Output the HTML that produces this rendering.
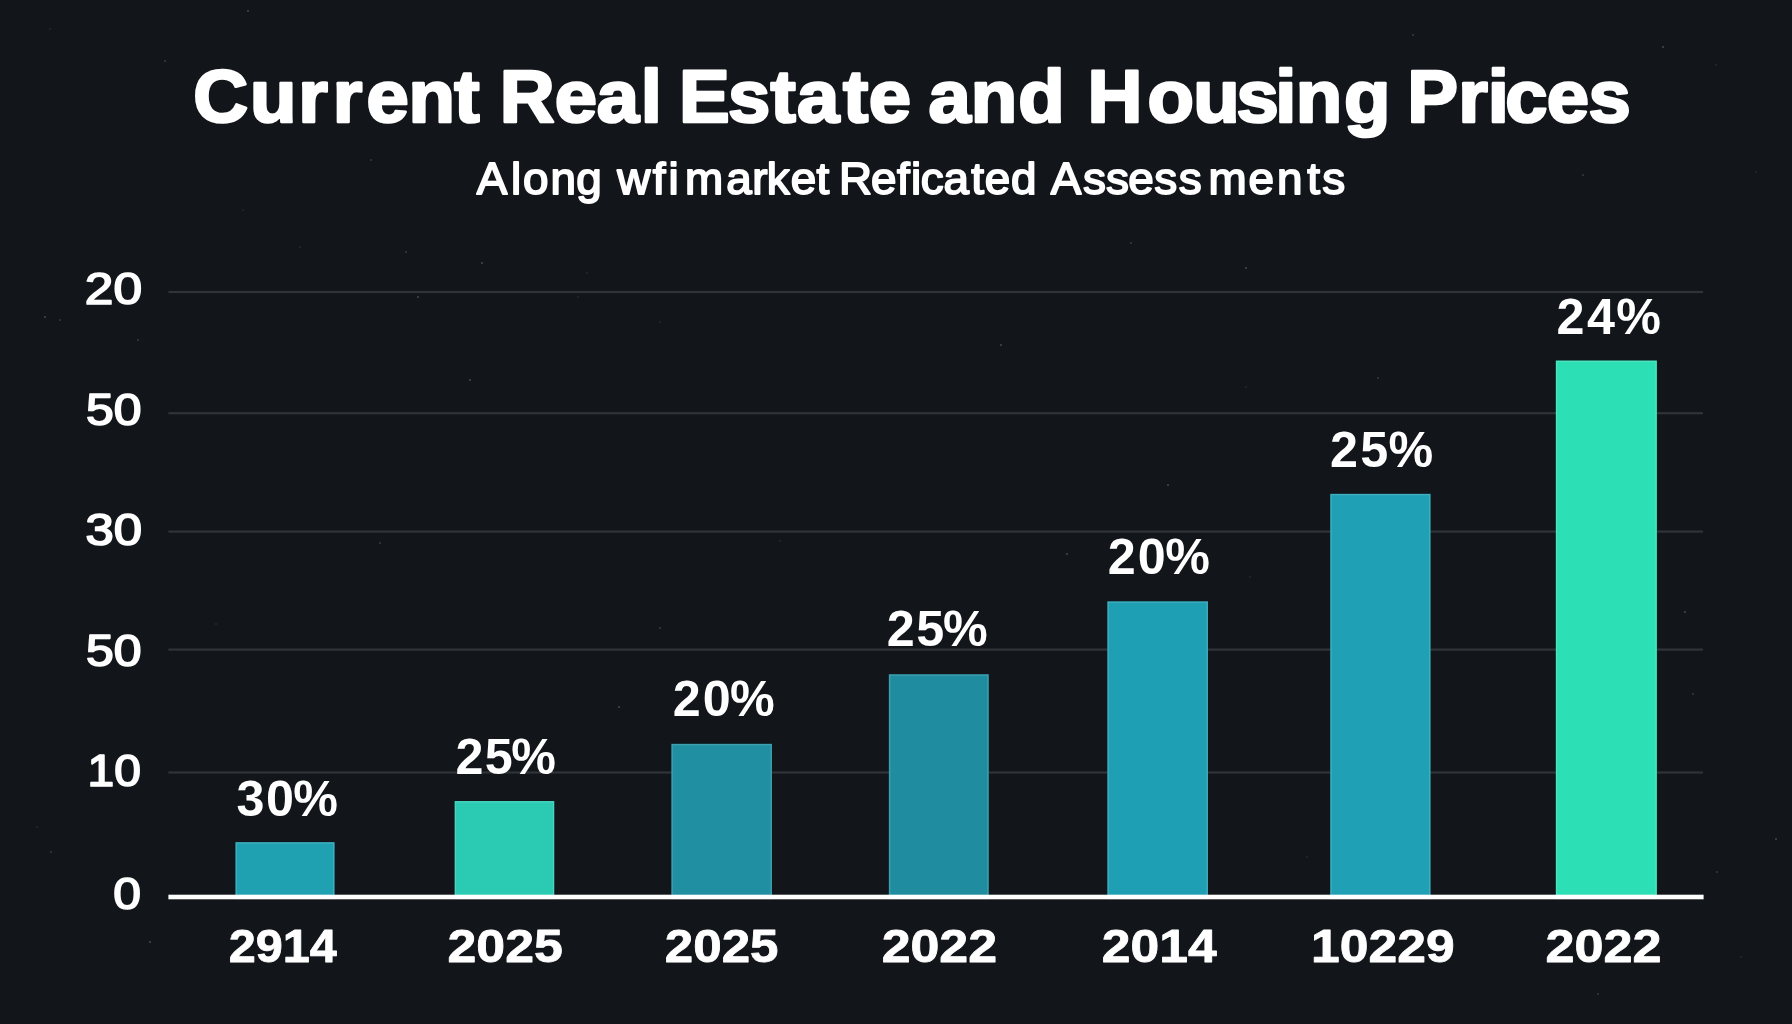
<!DOCTYPE html>
<html lang="en"><head><meta charset="utf-8"><title>Current Real Estate and Housing Prices</title>
<style>
html,body{margin:0;padding:0;background:#12161b;}
body{width:1792px;height:1024px;overflow:hidden;}
svg{display:block;will-change:transform;font-family:"Liberation Sans",sans-serif;font-kerning:none;font-variant-ligatures:none;}
svg text{white-space:pre;}
</style></head><body>
<svg role="img" aria-label="Bar chart: Current Real Estate and Housing Prices" width="1792" height="1024" viewBox="0 0 1792 1024">
<circle cx="50" cy="29" r="0.80" fill="#4b5057" opacity="0.55"/>
<circle cx="165" cy="61" r="0.95" fill="#4b5057" opacity="0.70"/>
<circle cx="248" cy="11" r="1.10" fill="#4b5057" opacity="0.85"/>
<circle cx="243" cy="210" r="0.80" fill="#4b5057" opacity="0.55"/>
<circle cx="371" cy="160" r="0.95" fill="#4b5057" opacity="0.70"/>
<circle cx="418" cy="297" r="1.10" fill="#4b5057" opacity="0.85"/>
<circle cx="578" cy="297" r="0.80" fill="#4b5057" opacity="0.55"/>
<circle cx="60" cy="320" r="0.95" fill="#4b5057" opacity="0.70"/>
<circle cx="45" cy="317" r="1.10" fill="#4b5057" opacity="0.85"/>
<circle cx="300" cy="247" r="0.80" fill="#4b5057" opacity="0.55"/>
<circle cx="406" cy="252" r="0.95" fill="#4b5057" opacity="0.70"/>
<circle cx="482" cy="263" r="1.10" fill="#4b5057" opacity="0.85"/>
<circle cx="587" cy="273" r="0.80" fill="#4b5057" opacity="0.55"/>
<circle cx="138" cy="340" r="0.95" fill="#4b5057" opacity="0.70"/>
<circle cx="470" cy="380" r="1.10" fill="#4b5057" opacity="0.85"/>
<circle cx="660" cy="322" r="0.80" fill="#4b5057" opacity="0.55"/>
<circle cx="1413" cy="35" r="0.95" fill="#4b5057" opacity="0.70"/>
<circle cx="1663" cy="47" r="1.10" fill="#4b5057" opacity="0.85"/>
<circle cx="1716" cy="65" r="0.80" fill="#4b5057" opacity="0.55"/>
<circle cx="1131" cy="243" r="0.95" fill="#4b5057" opacity="0.70"/>
<circle cx="1246" cy="268" r="1.10" fill="#4b5057" opacity="0.85"/>
<circle cx="1756" cy="172" r="0.80" fill="#4b5057" opacity="0.55"/>
<circle cx="1583" cy="175" r="0.95" fill="#4b5057" opacity="0.70"/>
<circle cx="1001" cy="345" r="1.10" fill="#4b5057" opacity="0.85"/>
<circle cx="1246" cy="387" r="0.80" fill="#4b5057" opacity="0.55"/>
<circle cx="1378" cy="378" r="0.95" fill="#4b5057" opacity="0.70"/>
<circle cx="1168" cy="485" r="1.10" fill="#4b5057" opacity="0.85"/>
<circle cx="216" cy="624" r="0.80" fill="#4b5057" opacity="0.55"/>
<circle cx="660" cy="628" r="0.95" fill="#4b5057" opacity="0.70"/>
<circle cx="619" cy="707" r="1.10" fill="#4b5057" opacity="0.85"/>
<circle cx="37" cy="827" r="0.80" fill="#4b5057" opacity="0.55"/>
<circle cx="51" cy="852" r="0.95" fill="#4b5057" opacity="0.70"/>
<circle cx="150" cy="942" r="1.10" fill="#4b5057" opacity="0.85"/>
<circle cx="780" cy="541" r="0.80" fill="#4b5057" opacity="0.55"/>
<circle cx="380" cy="543" r="0.95" fill="#4b5057" opacity="0.70"/>
<circle cx="1067" cy="554" r="1.10" fill="#4b5057" opacity="0.85"/>
<circle cx="1250" cy="577" r="0.80" fill="#4b5057" opacity="0.55"/>
<circle cx="1693" cy="694" r="0.95" fill="#4b5057" opacity="0.70"/>
<circle cx="1685" cy="612" r="1.10" fill="#4b5057" opacity="0.85"/>
<circle cx="1307" cy="857" r="0.80" fill="#4b5057" opacity="0.55"/>
<circle cx="1717" cy="872" r="0.95" fill="#4b5057" opacity="0.70"/>
<circle cx="1776" cy="839" r="1.10" fill="#4b5057" opacity="0.85"/>
<circle cx="1741" cy="957" r="0.80" fill="#4b5057" opacity="0.55"/>
<circle cx="1598" cy="994" r="0.95" fill="#4b5057" opacity="0.70"/>
<rect x="168.4" y="290.90" width="1534.6" height="2.2" fill="#2f3439"/>
<rect x="168.4" y="412.10" width="1534.6" height="2.2" fill="#2f3439"/>
<rect x="168.4" y="530.50" width="1534.6" height="2.2" fill="#2f3439"/>
<rect x="168.4" y="648.50" width="1534.6" height="2.2" fill="#2f3439"/>
<rect x="168.4" y="771.40" width="1534.6" height="2.2" fill="#2f3439"/>
<rect x="235.4" y="842.1" width="99.2" height="53.6" fill="#20a1b1"/>
<rect x="236.3" y="843.0" width="97.4" height="55.6" fill="none" stroke="#ffffff" stroke-opacity="0.16" stroke-width="1.2"/>
<rect x="454.6" y="801.0" width="99.7" height="94.7" fill="#2bcab2"/>
<rect x="455.5" y="801.9" width="97.9" height="96.7" fill="none" stroke="#ffffff" stroke-opacity="0.16" stroke-width="1.2"/>
<rect x="671.3" y="743.8" width="100.7" height="151.9" fill="#1f8fa1"/>
<rect x="672.2" y="744.7" width="98.9" height="153.9" fill="none" stroke="#ffffff" stroke-opacity="0.16" stroke-width="1.2"/>
<rect x="888.8" y="674.2" width="100.0" height="221.5" fill="#1f8d9f"/>
<rect x="889.7" y="675.1" width="98.2" height="223.5" fill="none" stroke="#ffffff" stroke-opacity="0.16" stroke-width="1.2"/>
<rect x="1107.3" y="601.3" width="100.7" height="294.4" fill="#1f9fb3"/>
<rect x="1108.2" y="602.2" width="98.9" height="296.4" fill="none" stroke="#ffffff" stroke-opacity="0.16" stroke-width="1.2"/>
<rect x="1330.2" y="493.8" width="100.4" height="401.9" fill="#1fa0b4"/>
<rect x="1331.1" y="494.7" width="98.6" height="403.9" fill="none" stroke="#ffffff" stroke-opacity="0.16" stroke-width="1.2"/>
<rect x="1555.8" y="360.5" width="101.1" height="535.2" fill="#2ddfb4"/>
<rect x="1556.7" y="361.4" width="99.3" height="537.2" fill="none" stroke="#ffffff" stroke-opacity="0.16" stroke-width="1.2"/>
<rect x="168.4" y="894.7" width="1535.2" height="4.6" fill="#ffffff"/>
<text transform="translate(0 122.40) scale(1.0300 1)" x="187.6 242.6 289.6 323.1 355.9 396.6 441.1 466.8 485.2 538.5 579.4 622.0 640.5 659.2 706.8 748.1 773.7 818.5 843.4 882.2 901.4 942.6 988.7 1032.2 1055.8 1114.0 1158.5 1200.6 1238.0 1257.9 1304.8 1347.1 1366.2 1415.7 1444.5 1461.4 1501.8 1542.3" y="0" font-size="73.84" font-weight="bold" fill="#ffffff" stroke="#ffffff" stroke-width="2.6" stroke-linejoin="round">Current Real Estate and Housing Prices</text>
<text transform="translate(0 194.40) scale(1.0300 1)" x="462.8 496.1 507.7 534.5 559.4 582.2 599.3 633.8 649.0 665.0 705.1 730.3 744.4 767.7 792.7 805.6 814.6 845.7 870.8 884.5 893.9 916.0 942.9 956.0 981.6 1005.1 1020.2 1051.5 1073.8 1095.4 1120.6 1144.4 1173.2 1212.1 1239.8 1269.3 1283.7" y="0" font-size="44.48" font-weight="normal" fill="#ffffff" stroke="#ffffff" stroke-width="1.8" stroke-linejoin="round">Along wfimarket Reficated Assessments</text>
<text transform="translate(84.80 304.42) scale(1.1565 1)" font-size="44.49" font-weight="normal" fill="#ffffff" stroke="#ffffff" stroke-width="1.7" stroke-linejoin="round">20</text>
<text transform="translate(85.95 424.52) scale(1.1223 1)" font-size="44.49" font-weight="normal" fill="#ffffff" stroke="#ffffff" stroke-width="1.7" stroke-linejoin="round">50</text>
<text transform="translate(85.43 544.72) scale(1.1433 1)" font-size="44.49" font-weight="normal" fill="#ffffff" stroke="#ffffff" stroke-width="1.7" stroke-linejoin="round">30</text>
<text transform="translate(85.97 666.22) scale(1.1363 1)" font-size="43.93" font-weight="normal" fill="#ffffff" stroke="#ffffff" stroke-width="1.7" stroke-linejoin="round">50</text>
<text transform="translate(87.58 786.12) scale(1.0992 1)" font-size="43.64" font-weight="normal" fill="#ffffff" stroke="#ffffff" stroke-width="1.7" stroke-linejoin="round">10</text>
<text transform="translate(113.31 909.12) scale(1.1190 1)" font-size="44.49" font-weight="normal" fill="#ffffff" stroke="#ffffff" stroke-width="1.7" stroke-linejoin="round">0</text>
<text transform="translate(0 815.61) scale(1.0000 1)" x="236.4 266.0 293.3" y="0" font-size="50.28" font-weight="bold" fill="#ffffff">30%</text>
<text transform="translate(0 773.71) scale(1.0000 1)" x="455.4 484.7 511.3" y="0" font-size="50.28" font-weight="bold" fill="#ffffff">25%</text>
<text transform="translate(0 715.71) scale(1.0000 1)" x="672.8 702.7 730.1" y="0" font-size="50.28" font-weight="bold" fill="#ffffff">20%</text>
<text transform="translate(0 645.71) scale(1.0000 1)" x="886.8 916.2 943.0" y="0" font-size="50.28" font-weight="bold" fill="#ffffff">25%</text>
<text transform="translate(0 574.31) scale(1.0000 1)" x="1107.7 1137.7 1165.3" y="0" font-size="50.28" font-weight="bold" fill="#ffffff">20%</text>
<text transform="translate(0 467.11) scale(1.0000 1)" x="1330.1 1360.3 1388.6" y="0" font-size="50.28" font-weight="bold" fill="#ffffff">25%</text>
<text transform="translate(0 334.11) scale(1.0000 1)" x="1556.6 1587.0 1616.2" y="0" font-size="50.28" font-weight="bold" fill="#ffffff">24%</text>
<text transform="translate(228.63 961.64) scale(1.0374 1)" font-size="46.89" font-weight="bold" fill="#ffffff" stroke="#ffffff" stroke-width="0.8" stroke-linejoin="round">2914</text>
<text transform="translate(447.54 961.64) scale(1.1058 1)" font-size="46.89" font-weight="bold" fill="#ffffff" stroke="#ffffff" stroke-width="0.8" stroke-linejoin="round">2025</text>
<text transform="translate(664.87 961.64) scale(1.0892 1)" font-size="46.89" font-weight="bold" fill="#ffffff" stroke="#ffffff" stroke-width="0.8" stroke-linejoin="round">2025</text>
<text transform="translate(881.64 961.64) scale(1.1071 1)" font-size="46.89" font-weight="bold" fill="#ffffff" stroke="#ffffff" stroke-width="0.8" stroke-linejoin="round">2022</text>
<text transform="translate(1101.85 961.64) scale(1.1004 1)" font-size="46.89" font-weight="bold" fill="#ffffff" stroke="#ffffff" stroke-width="0.8" stroke-linejoin="round">2014</text>
<text transform="translate(1311.09 961.64) scale(1.1012 1)" font-size="46.89" font-weight="bold" fill="#ffffff" stroke="#ffffff" stroke-width="0.8" stroke-linejoin="round">10229</text>
<text transform="translate(1545.54 961.64) scale(1.1130 1)" font-size="46.89" font-weight="bold" fill="#ffffff" stroke="#ffffff" stroke-width="0.8" stroke-linejoin="round">2022</text>
</svg>
</body></html>
